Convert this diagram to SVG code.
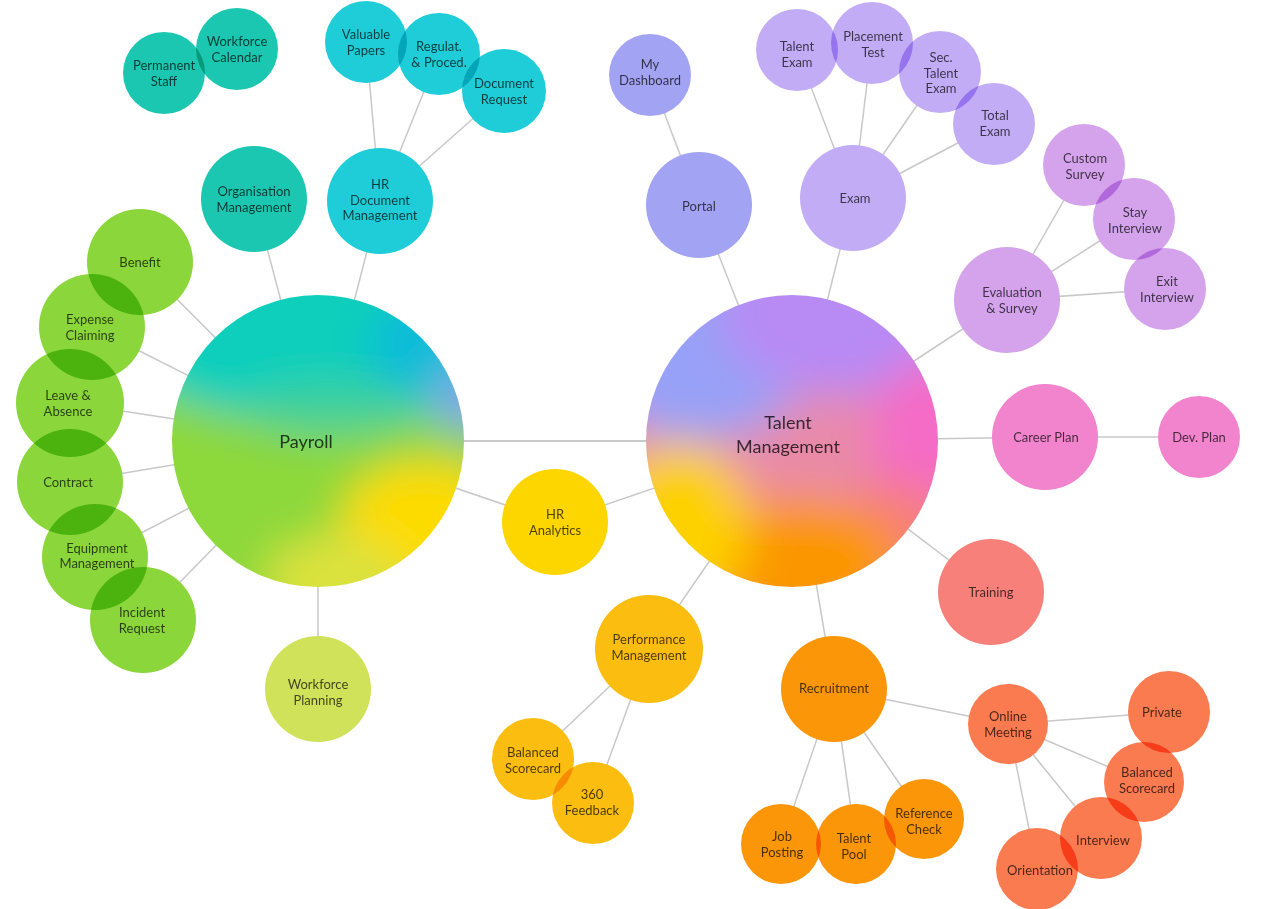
<svg xmlns="http://www.w3.org/2000/svg" width="1266" height="909" viewBox="0 0 1266 909">
<style>
.bg{fill:#ffffff}
.ln{stroke:#c8c8c8;stroke-width:1.5;fill:none}
.node{mix-blend-mode:multiply}
.t{font-family:Lato,'Liberation Sans',sans-serif;font-size:13px;text-anchor:middle;fill:#000;fill-opacity:0.7}
.big{font-size:18px;fill-opacity:0.75}
.teal{fill:#1cc7b1}
.cyan{fill:#1fcdd8}
.green{fill:#8bd63b}
.ygreen{fill:#d0e15a}
.yellow{fill:#fdd600}
.amber{fill:#fbbd10}
.orange{fill:#fa9608}
.coral{fill:#fb7b50}
.salmon{fill:#f7817a}
.pink{fill:#f283cd}
.lilac{fill:#d4a3ec}
.lav{fill:#c3acf6}
.peri{fill:#a2a4f3}
</style>
<defs>
<clipPath id="cpPay"><circle cx="318" cy="441" r="146"/></clipPath>
<clipPath id="cpTal"><circle cx="792" cy="441" r="146"/></clipPath>
<filter id="blurP" filterUnits="userSpaceOnUse" x="60" y="200" width="520" height="480"><feGaussianBlur stdDeviation="20"/></filter>
<filter id="blurT" filterUnits="userSpaceOnUse" x="540" y="200" width="520" height="480"><feGaussianBlur stdDeviation="22"/></filter>
</defs>
<rect class="bg" x="0" y="0" width="1266" height="909"/>
<g id="connectors">
<line class="ln" x1="318" y1="441" x2="792" y2="441" style="stroke-width:2"/>
<line class="ln" x1="318" y1="441" x2="254" y2="199"/>
<line class="ln" x1="318" y1="441" x2="380" y2="201"/>
<line class="ln" x1="380" y1="201" x2="366" y2="42"/>
<line class="ln" x1="380" y1="201" x2="439" y2="54"/>
<line class="ln" x1="380" y1="201" x2="504" y2="91"/>
<line class="ln" x1="318" y1="441" x2="140" y2="262"/>
<line class="ln" x1="318" y1="441" x2="92" y2="327"/>
<line class="ln" x1="318" y1="441" x2="70" y2="403"/>
<line class="ln" x1="318" y1="441" x2="70" y2="482"/>
<line class="ln" x1="318" y1="441" x2="95" y2="557"/>
<line class="ln" x1="318" y1="441" x2="143" y2="620"/>
<line class="ln" x1="318" y1="441" x2="318" y2="689"/>
<line class="ln" x1="318" y1="441" x2="555" y2="522"/>
<line class="ln" x1="555" y1="522" x2="792" y2="441"/>
<line class="ln" x1="792" y1="441" x2="699" y2="205"/>
<line class="ln" x1="699" y1="205" x2="650" y2="75"/>
<line class="ln" x1="792" y1="441" x2="853" y2="198"/>
<line class="ln" x1="853" y1="198" x2="797" y2="50"/>
<line class="ln" x1="853" y1="198" x2="872" y2="43"/>
<line class="ln" x1="853" y1="198" x2="940" y2="72"/>
<line class="ln" x1="853" y1="198" x2="994" y2="124"/>
<line class="ln" x1="792" y1="441" x2="1007" y2="300"/>
<line class="ln" x1="1007" y1="300" x2="1084" y2="165"/>
<line class="ln" x1="1007" y1="300" x2="1134" y2="219"/>
<line class="ln" x1="1007" y1="300" x2="1165" y2="289"/>
<line class="ln" x1="792" y1="441" x2="1045" y2="437"/>
<line class="ln" x1="1045" y1="437" x2="1199" y2="437"/>
<line class="ln" x1="792" y1="441" x2="991" y2="592"/>
<line class="ln" x1="792" y1="441" x2="834" y2="689"/>
<line class="ln" x1="834" y1="689" x2="781" y2="844"/>
<line class="ln" x1="834" y1="689" x2="856" y2="844"/>
<line class="ln" x1="834" y1="689" x2="924" y2="819"/>
<line class="ln" x1="834" y1="689" x2="1008" y2="724"/>
<line class="ln" x1="1008" y1="724" x2="1169" y2="712"/>
<line class="ln" x1="1008" y1="724" x2="1144" y2="782"/>
<line class="ln" x1="1008" y1="724" x2="1101" y2="838"/>
<line class="ln" x1="1008" y1="724" x2="1037" y2="869"/>
<line class="ln" x1="792" y1="441" x2="649" y2="649"/>
<line class="ln" x1="649" y1="649" x2="533" y2="759"/>
<line class="ln" x1="649" y1="649" x2="593" y2="803"/>
</g>
<g id="nodes" style="isolation:isolate">
<g id="payroll" class="node">
<g clip-path="url(#cpPay)">
<g filter="url(#blurP)">
<rect x="60" y="200" width="520" height="480" fill="#8dd83a"/>
<ellipse cx="330" cy="335" rx="215" ry="90" fill="#0ecfbb"/>
<ellipse cx="330" cy="410" rx="90" ry="25" fill="#3fd09a"/>
<ellipse cx="425" cy="345" rx="55" ry="50" fill="#0cbcd8"/>
<ellipse cx="468" cy="400" rx="35" ry="32" fill="#80a4ea"/>
<ellipse cx="425" cy="525" rx="85" ry="65" fill="#fddb00"/>
<ellipse cx="335" cy="580" rx="70" ry="45" fill="#dbe23c"/>
</g>
</g>
<text class="t big" x="306" y="448">Payroll</text>
</g>
<g id="talent-management" class="node">
<g clip-path="url(#cpTal)">
<g filter="url(#blurT)">
<rect x="540" y="200" width="520" height="480" fill="#e98aa8"/>
<ellipse cx="700" cy="345" rx="115" ry="95" fill="#97a1f7"/>
<ellipse cx="845" cy="315" rx="125" ry="80" fill="#b88af4"/>
<ellipse cx="930" cy="435" rx="60" ry="75" fill="#f46cc6"/>
<ellipse cx="895" cy="530" rx="55" ry="50" fill="#f67e7e"/>
<ellipse cx="795" cy="565" rx="110" ry="70" fill="#fb9606"/>
<ellipse cx="680" cy="525" rx="70" ry="82" fill="#fdd000"/>
</g>
</g>
<text class="t big" x="788" y="429">Talent</text>
<text class="t big" x="788" y="453">Management</text>
</g>
<g id="permanent-staff" class="node"><circle class="teal" cx="164" cy="73" r="41"/><text class="t" x="164" y="70">Permanent</text><text class="t" x="164" y="85.5">Staff</text></g>
<g id="workforce-calendar" class="node"><circle class="teal" cx="237" cy="49" r="41"/><text class="t" x="237" y="46">Workforce</text><text class="t" x="237" y="61.5">Calendar</text></g>
<g id="valuable-papers" class="node"><circle class="cyan" cx="366" cy="42" r="41"/><text class="t" x="366" y="39">Valuable</text><text class="t" x="366" y="54.5">Papers</text></g>
<g id="regulat-proced" class="node"><circle class="cyan" cx="439" cy="54" r="41"/><text class="t" x="439" y="51">Regulat.</text><text class="t" x="439" y="66.5">&amp; Proced.</text></g>
<g id="document-request" class="node"><circle class="cyan" cx="504" cy="91" r="42"/><text class="t" x="504" y="88">Document</text><text class="t" x="504" y="103.5">Request</text></g>
<g id="organisation-management" class="node"><circle class="teal" cx="254" cy="199" r="53"/><text class="t" x="254" y="196">Organisation</text><text class="t" x="254" y="211.5">Management</text></g>
<g id="hr-document-management" class="node"><circle class="cyan" cx="380" cy="201" r="53"/><text class="t" x="380" y="189">HR</text><text class="t" x="380" y="204.5">Document</text><text class="t" x="380" y="220">Management</text></g>
<g id="benefit" class="node"><circle class="green" cx="140" cy="262" r="53"/><text class="t" x="140" y="266.5">Benefit</text></g>
<g id="expense-claiming" class="node"><circle class="green" cx="92" cy="327" r="53"/><text class="t" x="90" y="324">Expense</text><text class="t" x="90" y="339.5">Claiming</text></g>
<g id="leave-absence" class="node"><circle class="green" cx="70" cy="403" r="54"/><text class="t" x="68" y="400">Leave &amp;</text><text class="t" x="68" y="415.5">Absence</text></g>
<g id="contract" class="node"><circle class="green" cx="70" cy="482" r="53"/><text class="t" x="68" y="486.5">Contract</text></g>
<g id="equipment-management" class="node"><circle class="green" cx="95" cy="557" r="53"/><text class="t" x="97" y="552.5">Equipment</text><text class="t" x="97" y="568">Management</text></g>
<g id="incident-request" class="node"><circle class="green" cx="143" cy="620" r="53"/><text class="t" x="142" y="617">Incident</text><text class="t" x="142" y="632.5">Request</text></g>
<g id="workforce-planning" class="node"><circle class="ygreen" cx="318" cy="689" r="53"/><text class="t" x="318" y="689">Workforce</text><text class="t" x="318" y="704.5">Planning</text></g>
<g id="hr-analytics" class="node"><circle class="yellow" cx="555" cy="522" r="53"/><text class="t" x="555" y="519">HR</text><text class="t" x="555" y="534.5">Analytics</text></g>
<g id="my-dashboard" class="node"><circle class="peri" cx="650" cy="75" r="41"/><text class="t" x="650" y="69">My</text><text class="t" x="650" y="84.5">Dashboard</text></g>
<g id="portal" class="node"><circle class="peri" cx="699" cy="205" r="53"/><text class="t" x="699" y="210.5">Portal</text></g>
<g id="talent-exam" class="node"><circle class="lav" cx="797" cy="50" r="41"/><text class="t" x="797" y="51">Talent</text><text class="t" x="797" y="66.5">Exam</text></g>
<g id="placement-test" class="node"><circle class="lav" cx="872" cy="43" r="41"/><text class="t" x="873" y="41">Placement</text><text class="t" x="873" y="56.5">Test</text></g>
<g id="sec-talent-exam" class="node"><circle class="lav" cx="940" cy="72" r="41"/><text class="t" x="941" y="62">Sec.</text><text class="t" x="941" y="77.5">Talent</text><text class="t" x="941" y="93">Exam</text></g>
<g id="total-exam" class="node"><circle class="lav" cx="994" cy="124" r="41"/><text class="t" x="995" y="120">Total</text><text class="t" x="995" y="135.5">Exam</text></g>
<g id="exam" class="node"><circle class="lav" cx="853" cy="198" r="53"/><text class="t" x="855" y="203">Exam</text></g>
<g id="custom-survey" class="node"><circle class="lilac" cx="1084" cy="165" r="41"/><text class="t" x="1085" y="163">Custom</text><text class="t" x="1085" y="178.5">Survey</text></g>
<g id="stay-interview" class="node"><circle class="lilac" cx="1134" cy="219" r="41"/><text class="t" x="1135" y="217">Stay</text><text class="t" x="1135" y="232.5">Interview</text></g>
<g id="exit-interview" class="node"><circle class="lilac" cx="1165" cy="289" r="41"/><text class="t" x="1167" y="286">Exit</text><text class="t" x="1167" y="301.5">Interview</text></g>
<g id="evaluation-survey" class="node"><circle class="lilac" cx="1007" cy="300" r="53"/><text class="t" x="1012" y="297">Evaluation</text><text class="t" x="1012" y="312.5">&amp; Survey</text></g>
<g id="career-plan" class="node"><circle class="pink" cx="1045" cy="437" r="53"/><text class="t" x="1046" y="441.5">Career Plan</text></g>
<g id="dev-plan" class="node"><circle class="pink" cx="1199" cy="437" r="41"/><text class="t" x="1199" y="441.5">Dev. Plan</text></g>
<g id="training" class="node"><circle class="salmon" cx="991" cy="592" r="53"/><text class="t" x="991" y="596.5">Training</text></g>
<g id="recruitment" class="node"><circle class="orange" cx="834" cy="689" r="53"/><text class="t" x="834" y="692.5">Recruitment</text></g>
<g id="job-posting" class="node"><circle class="orange" cx="781" cy="844" r="40"/><text class="t" x="782" y="841">Job</text><text class="t" x="782" y="856.5">Posting</text></g>
<g id="talent-pool" class="node"><circle class="orange" cx="856" cy="844" r="40"/><text class="t" x="854" y="843">Talent</text><text class="t" x="854" y="858.5">Pool</text></g>
<g id="reference-check" class="node"><circle class="orange" cx="924" cy="819" r="40"/><text class="t" x="924" y="818">Reference</text><text class="t" x="924" y="833.5">Check</text></g>
<g id="online-meeting" class="node"><circle class="coral" cx="1008" cy="724" r="40"/><text class="t" x="1008" y="721">Online</text><text class="t" x="1008" y="736.5">Meeting</text></g>
<g id="private" class="node"><circle class="coral" cx="1169" cy="712" r="41"/><text class="t" x="1162" y="716.5">Private</text></g>
<g id="balanced-scorecard-online" class="node"><circle class="coral" cx="1144" cy="782" r="40"/><text class="t" x="1147" y="777">Balanced</text><text class="t" x="1147" y="792.5">Scorecard</text></g>
<g id="interview" class="node"><circle class="coral" cx="1101" cy="838" r="41"/><text class="t" x="1103" y="845">Interview</text></g>
<g id="orientation" class="node"><circle class="coral" cx="1037" cy="869" r="41"/><text class="t" x="1040" y="875">Orientation</text></g>
<g id="performance-management" class="node"><circle class="amber" cx="649" cy="649" r="54"/><text class="t" x="649" y="644">Performance</text><text class="t" x="649" y="659.5">Management</text></g>
<g id="balanced-scorecard" class="node"><circle class="amber" cx="533" cy="759" r="41"/><text class="t" x="533" y="757">Balanced</text><text class="t" x="533" y="772.5">Scorecard</text></g>
<g id="feedback-360" class="node"><circle class="amber" cx="593" cy="803" r="41"/><text class="t" x="592" y="799">360</text><text class="t" x="592" y="814.5">Feedback</text></g>
</g>
</svg>
